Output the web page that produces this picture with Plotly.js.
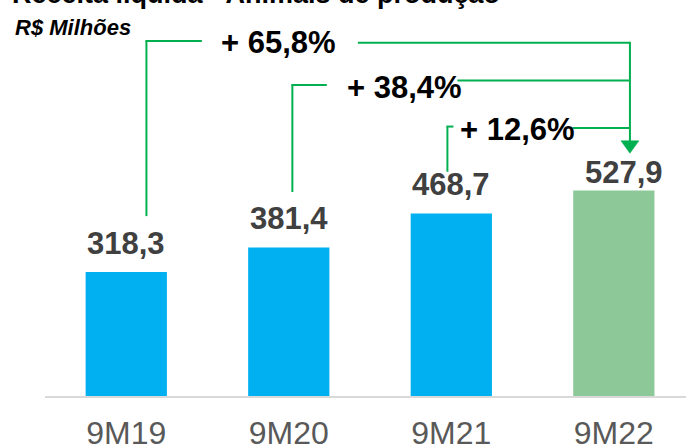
<!DOCTYPE html>
<html><head><meta charset="utf-8">
<script src="https://cdn.plot.ly/plotly-3.0.1.min.js"></script>
<style>html,body{margin:0;padding:0;background:#fff}#chart{width:686px;height:446px}</style>
</head><body><div id="chart"></div>
<script>
// ---- data ----
const categories = ['9M19', '9M20', '9M21', '9M22'];
const values = [318.3, 381.4, 468.7, 527.9];
const valueLabels = ['318,3', '381,4', '468,7', '527,9'];
const barColors = ['#00b0f0', '#00b0f0', '#00b0f0', '#8dc898'];
const growthLabels = ['+ 65,8%', '+ 38,4%', '+ 12,6%'];
const titleText = 'Receita líquida - Animais de produção';
const unitText = 'R$ Milhões';

// ---- connector geometry (axis units) ----
const leftX = [0.124, 1.022, 1.976];
const leftBottom = [462, 524, 576];
const leftTop = [912, 799, 692];
const leftEnd = [0.465, 1.234, 2.013];
const rightStart = [1.425, 2.038, 2.746];
const rightLevel = [907.5, 810, 688];
const textX = [0.935, 1.713, 2.41];
const textY = [906.7, 792, 683.3];
const arrowX = 3.099;
const arrowTip = 623.4;

const green = '#00b050';
const FONT = 'Liberation Sans, Arial, sans-serif';

const shapes = [];
for (let i = 0; i < growthLabels.length; i++) {
  const ln = {color: green, width: 2};
  shapes.push({type: 'line', xref: 'x', yref: 'y', x0: leftX[i], x1: leftX[i], y0: leftBottom[i], y1: leftTop[i], line: ln});
  shapes.push({type: 'line', xref: 'x', yref: 'y', x0: leftX[i] - 0.006, x1: leftEnd[i], y0: leftTop[i], y1: leftTop[i], line: ln});
  shapes.push({type: 'line', xref: 'x', yref: 'y', x0: rightStart[i], x1: arrowX, y0: rightLevel[i], y1: rightLevel[i], line: ln});
}
// arrow shaft
shapes.push({type: 'line', xref: 'x', yref: 'y', x0: arrowX, x1: arrowX, y0: rightLevel[0] + 2, y1: arrowTip + 20, line: {color: green, width: 2}});
// arrow head (pixel-sized triangle anchored at the tip)
shapes.push({
  type: 'path', xref: 'x', yref: 'y', xsizemode: 'pixel', ysizemode: 'pixel',
  xanchor: arrowX, yanchor: arrowTip, path: 'M-9,12.5 L9,12.5 L0,0 Z',
  fillcolor: green, line: {color: green, width: 0.5}
});

const annotations = [];
values.forEach((v, i) => {
  const last = i === values.length - 1;
  annotations.push({
    x: i, y: v, xref: 'x', yref: 'y', text: '<b>' + valueLabels[i] + '</b>',
    showarrow: false, yanchor: 'bottom', xanchor: 'center',
    yshift: last ? -1.6 : 9.4, xshift: last ? 10 : 0,
    font: {family: FONT, size: 31, color: '#404040'}
  });
});
growthLabels.forEach((t, i) => {
  annotations.push({
    x: textX[i], y: textY[i], xref: 'x', yref: 'y', text: '<b>' + t + '</b>',
    showarrow: false, xanchor: 'center', yanchor: 'middle',
    font: {family: FONT, size: 31, color: '#000000'}
  });
});
annotations.push({
  x: -0.0546, y: 1, xref: 'paper', yref: 'paper', xanchor: 'left', yanchor: 'top',
  yshift: 23.4, showarrow: false, text: '<b>' + titleText + '</b>',
  font: {family: FONT, size: 27, color: '#000000'}
});
annotations.push({
  x: -0.0500, y: 1, xref: 'paper', yref: 'paper', xanchor: 'left', yanchor: 'top',
  yshift: -13.4, showarrow: false, text: '<b><i>' + unitText + '</i></b>',
  font: {family: FONT, size: 22, color: '#000000'}
});

const trace = {
  type: 'bar', x: categories, y: values,
  marker: {color: barColors}, hoverinfo: 'none', cliponaxis: false
};

const layout = {
  width: 686, height: 446,
  margin: {l: 45, r: 0, t: 0, b: 50, pad: 0},
  paper_bgcolor: '#ffffff', plot_bgcolor: '#ffffff',
  showlegend: false, bargap: 0.5,
  font: {family: FONT},
  xaxis: {
    type: 'category', range: [-0.5, 3.444], showline: true, linecolor: '#d9d9d9', linewidth: 2,
    showgrid: false, zeroline: false, ticks: '', fixedrange: true, ticklabelstandoff: 8,
    tickfont: {family: FONT, size: 32, color: '#595959'}
  },
  yaxis: {range: [0, 1017], visible: false, showgrid: false, zeroline: false, fixedrange: true},
  shapes: shapes, annotations: annotations
};

Plotly.newPlot('chart', [trace], layout, {displayModeBar: false, staticPlot: true});
</script>
</body></html>
